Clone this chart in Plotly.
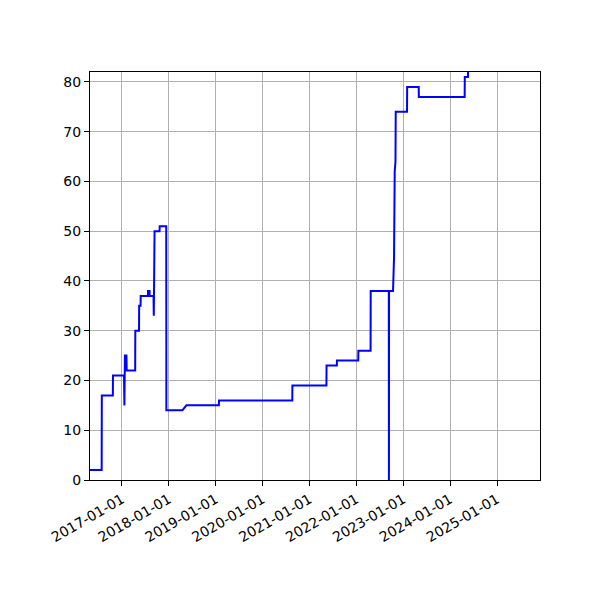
"""
Step-like time series (matplotlib look) recreated with Plotly.
"""
import plotly.graph_objects as go

# observation dates and values (each level change is two consecutive observations)
dates = [
    "2016-04-27", "2016-07-27", "2016-07-28", "2016-10-22", "2016-10-23",
    "2017-01-17", "2017-01-20", "2017-01-24", "2017-02-05", "2017-02-07",
    "2017-04-14", "2017-04-15", "2017-05-14", "2017-05-15", "2017-05-26",
    "2017-05-27", "2017-07-22", "2017-07-23", "2017-08-04", "2017-08-05",
    "2017-09-04", "2017-09-06", "2017-09-12", "2017-10-21", "2017-10-22",
    "2017-12-12", "2017-12-13", "2018-04-17", "2018-05-18", "2019-01-26",
    "2019-01-27", "2020-08-20", "2020-08-21", "2021-05-13", "2021-05-14",
    "2021-08-02", "2021-08-03", "2022-01-16", "2022-01-17", "2022-04-22",
    "2022-04-23", "2022-09-11", "2022-09-12", "2022-09-13", "2022-10-14",
    "2022-10-20", "2022-10-22", "2022-10-27", "2022-11-02", "2022-11-04",
    "2023-01-31", "2023-02-01", "2023-05-02", "2023-05-03", "2024-04-24",
    "2024-04-25", "2024-05-20", "2024-05-21",
]
values = [
    2, 2, 17, 17, 21,
    21, 15, 25, 25, 22,
    22, 30, 30, 35, 35,
    37, 37, 38, 38, 37,
    37, 33, 50, 50, 51,
    51, 14, 14, 15, 15,
    16, 16, 19, 19, 23,
    23, 24, 24, 26, 26,
    38, 38, 0, 38, 38,
    45, 45, 62, 64, 74,
    74, 79, 79, 77, 77,
    81, 81, 86,
]

tick_dates = [f"{y}-01-01" for y in range(2017, 2026)]
y_ticks = [0, 10, 20, 30, 40, 50, 60, 70, 80]

fig = go.Figure(go.Scatter(
    x=dates,
    y=values,
    mode="lines",
    line=dict(color="#0000ff", width=2),
    hoverinfo="x+y",
))

axis_style = dict(
    showline=True,
    linecolor="black",
    linewidth=1,
    mirror=True,
    ticks="outside",
    ticklen=5,
    tickwidth=1,
    tickcolor="black",
    showgrid=True,
    gridcolor="#b0b0b0",
    gridwidth=1,
    zeroline=False,
)

# page body adds an 8px offset, so margins are shifted to keep the plot box in place
fig.update_layout(
    width=600,
    height=600,
    margin=dict(l=82, r=68, t=64, b=128),
    plot_bgcolor="white",
    paper_bgcolor="white",
    showlegend=False,
    font=dict(family="DejaVu Sans", size=14, color="black"),
    xaxis=dict(
        type="date",
        range=["2016-04-27", "2025-12-02"],
        tickvals=tick_dates,
        tickformat="%Y-%m-%d",
        tickangle=-30,
        **axis_style,
    ),
    yaxis=dict(
        range=[0, 82],
        tickvals=y_ticks,
        **axis_style,
    ),
)

fig.write_html("out.html")
